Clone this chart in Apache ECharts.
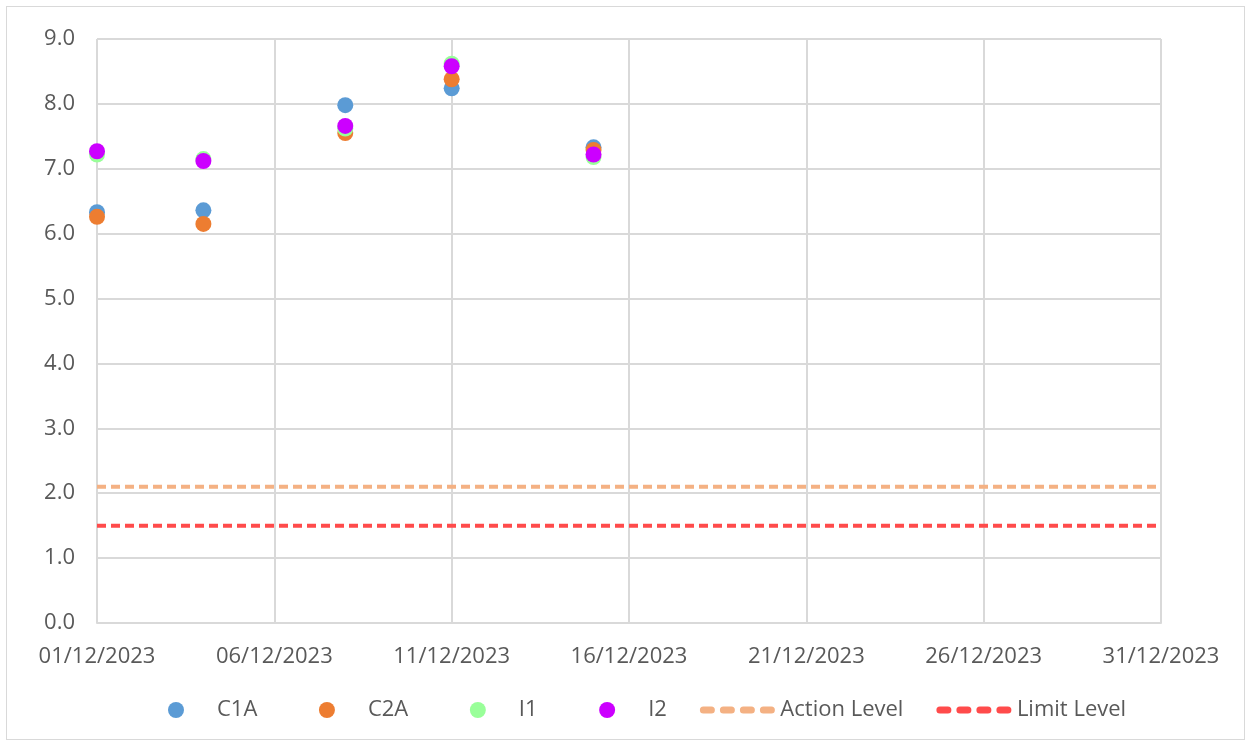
<!DOCTYPE html>
<html>
<head>
<meta charset="utf-8">
<script src="https://cdn.jsdelivr.net/npm/echarts@6/dist/echarts.min.js"></script>
<style>
  html, body { margin: 0; padding: 0; background: #fff; }
  #frame { position: absolute; left: 6px; top: 6px; width: 1239px; height: 734px; border: 1px solid #d9d9d9; box-sizing: border-box; }
  #chart { position: absolute; left: 0; top: 0; width: 1252px; height: 746px; }
</style>
</head>
<body>
<div id="frame"></div>
<div id="chart"></div>
<script>
// sampling dates (day of December 2023)
const dates = ['01/12/2023', '04/12/2023', '08/12/2023', '11/12/2023', '15/12/2023']
const c1a = [6.33, 6.36, 7.98, 8.24, 7.33]
const c2a = [6.26, 6.15, 7.55, 8.38, 7.29]
const i1 = [7.22, 7.15, 7.62, 8.62, 7.18]
const i2 = [7.27, 7.12, 7.66, 8.58, 7.22]
const actionLevel = 2.1
const limitLevel = 1.5
const yTicks = [0, 9, 1] // min, max, step

// x axis in days since 01/12/2023
const dayOf = s => parseInt(s.slice(0, 2), 10) - 1
const toPoints = vals => dates.map((d, i) => [dayOf(d), vals[i]])
const dayLabel = v => String(v + 1).padStart(2, '0') + '/12/2023'

const font = '"Open Sans", "Liberation Sans", sans-serif'
const chart = echarts.init(document.getElementById('chart'))

const scatter = (name, vals, color) => ({
  name,
  type: 'scatter',
  symbolSize: 16,
  itemStyle: { color, opacity: 1 },
  data: toPoints(vals)
})
const level = (name, val, color) => ({
  name,
  type: 'line',
  symbol: 'none',
  lineStyle: { color, width: 4, type: [9, 5] },
  itemStyle: { color },
  data: [[0, val], [30, val]],
  z: 1
})
const legendLine = (name, color) => ({
  name,
  itemStyle: { opacity: 0 },
  lineStyle: { color, width: 7, type: [8, 12], cap: 'round' }
})
// extra space after the marker entries, like the wide spacing in the original
const spaced = ['C1A', 'C2A', 'I1']
const pad = '\u00a0'.repeat(5)

chart.setOption({
  animation: false,
  grid: { left: 97, right: 91, top: 39, bottom: 123 },
  xAxis: {
    type: 'value',
    min: 0,
    max: 30,
    interval: 5,
    axisLine: { show: true, lineStyle: { color: '#d9d9d9', width: 2 } },
    axisTick: { show: false },
    splitLine: { show: true, lineStyle: { color: '#d9d9d9', width: 2 } },
    axisLabel: { formatter: dayLabel, color: '#595959', fontSize: 22, fontFamily: font, margin: 23 }
  },
  yAxis: {
    type: 'value',
    min: yTicks[0],
    max: yTicks[1],
    interval: yTicks[2],
    axisLine: { show: false },
    axisTick: { show: false },
    splitLine: { lineStyle: { color: '#d9d9d9', width: 2 } },
    axisLabel: { formatter: v => v.toFixed(1), color: '#595959', fontSize: 22, fontFamily: font, margin: 22 }
  },
  legend: {
    bottom: 20,
    left: 163,
    itemGap: 33,
    itemWidth: 72,
    itemHeight: 16,
    textStyle: { color: '#595959', fontSize: 22, fontFamily: font },
    formatter: name => spaced.includes(name) ? name + pad : name,
    data: [
      { name: 'C1A', icon: 'circle' },
      { name: 'C2A', icon: 'circle' },
      { name: 'I1', icon: 'circle' },
      { name: 'I2', icon: 'circle' },
      legendLine('Action Level', '#f4b183'),
      legendLine('Limit Level', '#ff4b4b')
    ]
  },
  series: [
    level('Action Level', actionLevel, '#f4b183'),
    level('Limit Level', limitLevel, '#ff4b4b'),
    scatter('C1A', c1a, '#5b9bd5'),
    scatter('C2A', c2a, '#ed7d31'),
    scatter('I1', i1, '#99ff99'),
    scatter('I2', i2, '#cc00ff')
  ]
})
</script>
</body>
</html>
